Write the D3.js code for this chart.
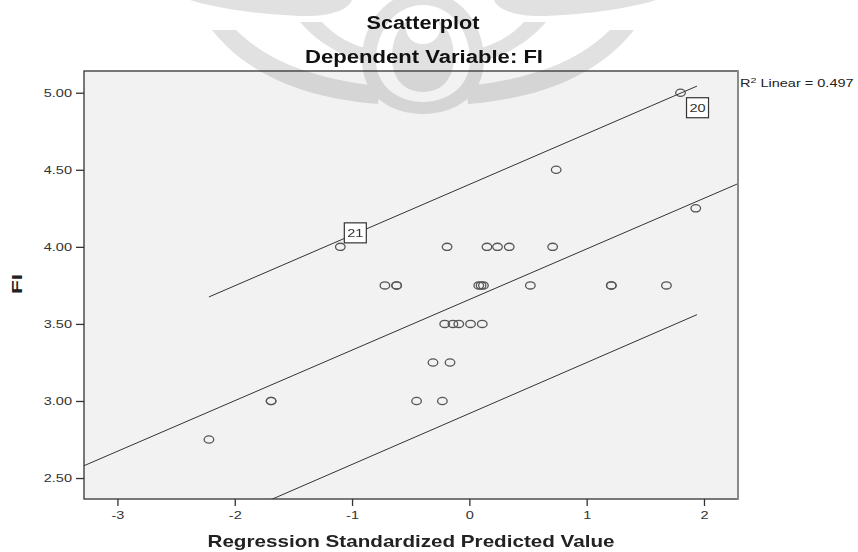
<!DOCTYPE html>
<meta charset="utf-8">
<style>

body {
  margin: 0;
  background: #fff;
}

text {
  font-family: "Liberation Sans", Arial, sans-serif;
}

.tick text {
  fill: #333;
  font-size: 11px;
}

.tick line {
  stroke: #333;
  stroke-width: 1.3px;
}

.domain {
  display: none;
}

.pt {
  fill: none;
  stroke: #555;
  stroke-width: 1.3px;
}

.fitline {
  stroke: #333;
  stroke-width: 1px;
  fill: none;
}

</style>

<body>

<script src="https://cdn.jsdelivr.net/npm/d3@7/dist/d3.min.js"></script>
<script>

// values
var predicted = [1.80, 0.74, 1.93, -1.10, -0.19, 0.15, 0.24, 0.34, 0.71,
  -0.72, -0.62, -0.62, 0.08, 0.10, 0.12, 0.52, 1.21, 1.21, 1.68,
  -0.21, -0.14, -0.09, 0.01, 0.11,
  -0.31, -0.165,
  -0.23, -0.45, -1.69, -1.69,
  -2.22];
var fi = [5.00, 4.50, 4.25, 4.00, 4.00, 4.00, 4.00, 4.00, 4.00,
  3.75, 3.75, 3.75, 3.75, 3.75, 3.75, 3.75, 3.75, 3.75, 3.75,
  3.50, 3.50, 3.50, 3.50, 3.50,
  3.25, 3.25,
  3.00, 3.00, 3.00, 3.00,
  2.75];

var caseLabels = ["20", "21"];
var caseIndex = [0, 3];

var xTicks = [-3, -2, -1, 0, 1, 2];
var yTicks = [2.5, 3, 3.5, 4, 4.5, 5];

// fit line and interval lines (end points)
var fitX = [-3.285, 2.29],
    fitY = [2.58, 4.41];
var bandX = [-2.22, 1.94],
    upperY = [3.675, 5.043],
    lowerY = [2.185, 3.56];

var rSquared = "0.497";

var width = 858, height = 552;
var plot = {left: 84, right: 738, top: 71, bottom: 499};
var SX = 1.32; // picture is stretched sideways

// label box offsets from their point
var labelOffset = {"20": [6, 5], "21": [4, -24]};

var x = d3.scaleLinear().domain([-3.285, 2.29]).range([plot.left, plot.right]);
var y = d3.scaleLinear().domain([2.364, 5.141]).range([plot.bottom, plot.top]);

var svg = d3.select("body").append("svg")
    .attr("width", width)
    .attr("height", height);

svg.append("rect")
    .attr("x", plot.left)
    .attr("y", plot.top)
    .attr("width", plot.right - plot.left)
    .attr("height", plot.bottom - plot.top)
    .style("fill", "#f2f2f2");

// faint logo watermark behind the title, left half mirrored
var wm = svg.append("g")
    .style("fill", "#000")
    .style("opacity", 0.12);

var half = [
  "M190,0 L352,0 C348,10 330,17 300,16 C255,14 215,8 190,0 Z",
  "M212,30 C245,72 300,98 378,104 L380,86 C318,80 268,62 236,30 Z",
  "M300,22 C320,45 345,58 372,63 L374,50 C352,46 335,36 322,22 Z",
  "M423,-8 C385,-8 362,25 362,60 C362,95 390,114 423,114 L423,102 C398,102 376,86 376,60 C376,30 396,5 423,5 Z",
  "M423,16 C402,16 392,36 392,58 C392,78 404,92 423,92 L423,44 C412,44 406,36 406,28 C406,20 413,16 423,16 Z"
];

wm.selectAll("path.l").data(half).enter().append("path")
    .attr("d", function(d) { return d; });
wm.selectAll("path.r").data(half).enter().append("path")
    .attr("transform", "translate(846,0) scale(-1,1)")
    .attr("d", function(d) { return d; });

svg.append("defs").append("clipPath")
    .attr("id", "clip")
  .append("rect")
    .attr("x", plot.left)
    .attr("y", plot.top)
    .attr("width", plot.right - plot.left)
    .attr("height", plot.bottom - plot.top);

var line = d3.line()
    .x(function(d) { return x(d[0]); })
    .y(function(d) { return y(d[1]); });

var lines = svg.append("g").attr("clip-path", "url(#clip)");

lines.append("path")
    .attr("class", "fitline")
    .attr("d", line(d3.zip(fitX, fitY)));
lines.append("path")
    .attr("class", "fitline")
    .attr("d", line(d3.zip(bandX, upperY)));
lines.append("path")
    .attr("class", "fitline")
    .attr("d", line(d3.zip(bandX, lowerY)));

svg.append("g").selectAll("ellipse")
    .data(d3.zip(predicted, fi))
  .enter().append("ellipse")
    .attr("class", "pt")
    .attr("cx", function(d) { return x(d[0]); })
    .attr("cy", function(d) { return y(d[1]); })
    .attr("rx", 4.8)
    .attr("ry", 3.6);

// case labels
var lab = svg.append("g").selectAll("g")
    .data(caseLabels)
  .enter().append("g")
    .attr("transform", function(d, i) {
      var k = caseIndex[i], o = labelOffset[d];
      return "translate(" + (x(predicted[k]) + o[0]) + "," + (y(fi[k]) + o[1]) + ")";
    });

lab.append("rect")
    .attr("width", 22)
    .attr("height", 20)
    .style("fill", "#fff")
    .style("stroke", "#333")
    .style("stroke-width", 1.2);

lab.append("text")
    .attr("transform", "translate(11,14.5) scale(" + SX + ",1)")
    .attr("text-anchor", "middle")
    .style("font-size", "11px")
    .style("fill", "#333")
    .text(function(d) { return d; });

// frame
svg.append("rect")
    .attr("x", plot.left)
    .attr("y", plot.top)
    .attr("width", plot.right - plot.left)
    .attr("height", plot.bottom - plot.top)
    .style("fill", "none")
    .style("stroke", "#333")
    .style("stroke-width", 1.3);

svg.append("line")
    .attr("x1", plot.right).attr("x2", plot.right)
    .attr("y1", plot.top).attr("y2", plot.bottom)
    .style("stroke", "#8a8a8a")
    .style("stroke-width", 2);

// axes
var yAxis = svg.append("g")
    .attr("transform", "translate(" + plot.left + ",0)")
    .call(d3.axisLeft(y).tickValues(yTicks).tickFormat(d3.format(".2f")).tickSize(8));

yAxis.selectAll(".tick text")
    .attr("x", 0)
    .attr("transform", "translate(-12,0) scale(" + SX + ",1)");

var xAxis = svg.append("g")
    .attr("transform", "translate(0," + plot.bottom + ")")
    .call(d3.axisBottom(x).tickValues(xTicks)
      .tickFormat(function(d) { return String(d); })
      .tickSize(7).tickPadding(5));

xAxis.selectAll(".tick text")
    .attr("transform", "scale(" + SX + ",1)");

// titles
svg.append("text")
    .attr("x", 423)
    .attr("y", 29)
    .attr("text-anchor", "middle")
    .attr("textLength", 113)
    .attr("lengthAdjust", "spacingAndGlyphs")
    .style("font-size", "18px")
    .style("font-weight", "bold")
    .style("fill", "#111")
    .text("Scatterplot");

svg.append("text")
    .attr("x", 424)
    .attr("y", 63)
    .attr("text-anchor", "middle")
    .attr("textLength", 238)
    .attr("lengthAdjust", "spacingAndGlyphs")
    .style("font-size", "18px")
    .style("font-weight", "bold")
    .style("fill", "#111")
    .text("Dependent Variable: FI");

svg.append("text")
    .attr("x", (plot.left + plot.right) / 2)
    .attr("y", 547)
    .attr("text-anchor", "middle")
    .attr("textLength", 407)
    .attr("lengthAdjust", "spacingAndGlyphs")
    .style("font-size", "17px")
    .style("font-weight", "bold")
    .style("fill", "#222")
    .text("Regression Standardized Predicted Value");

svg.append("text")
    .attr("transform", "translate(22,284) rotate(-90)")
    .attr("text-anchor", "middle")
    .attr("textLength", 20)
    .attr("lengthAdjust", "spacingAndGlyphs")
    .style("font-size", "14px")
    .style("font-weight", "bold")
    .style("fill", "#222")
    .text("FI");

// r squared note
var r2 = svg.append("text")
    .attr("transform", "translate(740,87) scale(" + SX + ",1)")
    .style("font-size", "11px")
    .style("fill", "#222");
r2.append("tspan").text("R");
r2.append("tspan").attr("dy", -4).style("font-size", "8px").text("2");
r2.append("tspan").attr("dy", 4).text(" Linear = " + rSquared);

</script>
</body>
